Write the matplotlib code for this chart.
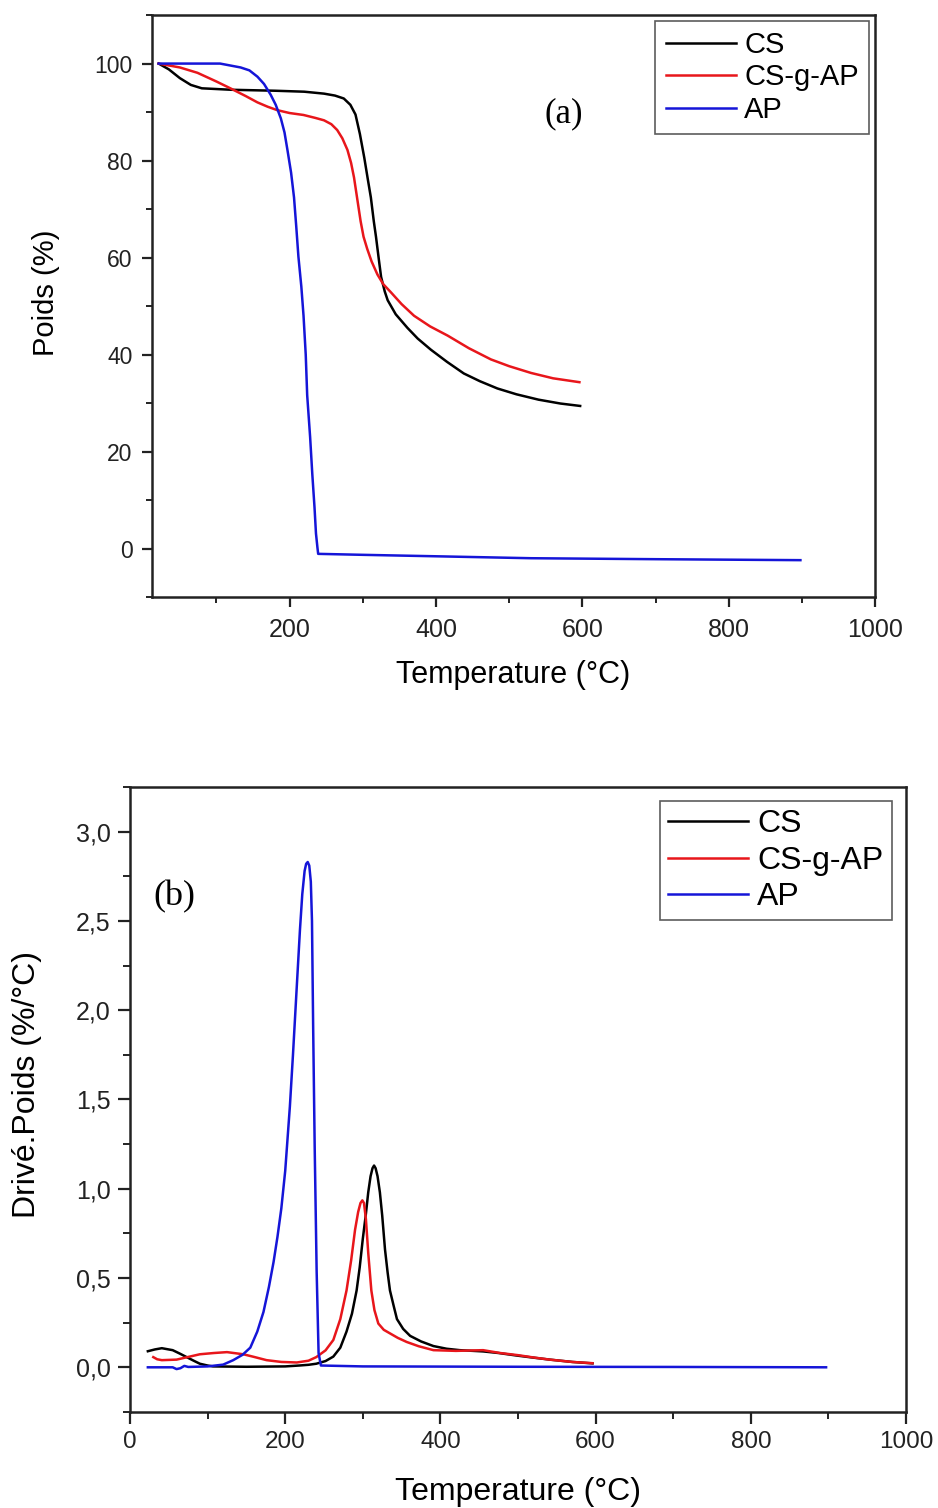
import matplotlib
matplotlib.use("Agg")
from matplotlib import pyplot as plt
from matplotlib.ticker import MultipleLocator, FuncFormatter

# ---- (a) TGA: weight loss (%) vs temperature (°C) ----
tga_cs_t = [21, 35, 50, 65, 80, 120, 180, 220, 247, 262, 274, 283, 290, 296, 302, 307, 311,
            315, 318, 322, 325, 330, 334, 345, 361, 375, 393, 415, 438, 460, 484, 510, 540,
            570, 597]
tga_cs_w = [100, 98.8, 97.0, 95.6, 94.9, 94.6, 94.4, 94.2, 93.8, 93.4, 92.8, 91.5, 89.5, 85.5,
            80.6, 76, 72.4, 67.5, 64.3, 59.5, 56, 53, 51.2, 48.3, 45.5, 43.3, 41, 38.5, 36.1,
            34.5, 33.0, 31.8, 30.7, 29.9, 29.4]

tga_csg_t = [21, 50, 74, 100, 119, 140, 156, 170, 183, 200, 219, 235, 247, 257, 265, 272, 279,
             284, 288, 292, 297, 301, 306, 312, 320, 328, 338, 353, 370, 392, 416, 445, 475,
             500, 530, 560, 596]
tga_csg_w = [100, 99.2, 98.1, 96.3, 94.9, 93.3, 92, 91.1, 90.4, 89.8, 89.4, 88.8, 88.3, 87.5,
             86.3, 84.6, 82.2, 79.5, 76.5, 72.5, 67.5, 64.3, 61.8, 59.2, 56.5, 54.5, 52.9,
             50.4, 48, 45.8, 43.9, 41.3, 39.0, 37.6, 36.2, 35.1, 34.3]

tga_ap_t = [21, 60, 105, 133, 145, 156, 165, 174, 181, 188, 193, 197, 202, 206, 209, 212, 216,
            219, 222, 224, 228, 231, 234, 236, 238, 239, 300, 400, 530, 700, 898]
tga_ap_w = [100, 100, 100, 99.2, 98.6, 97.3, 95.8, 93.6, 91.5, 88.7, 85.8, 82.2, 77.5, 72.4,
            66.5, 60.2, 54, 48, 40, 31.6, 23, 15.3, 8.5, 3.1, 0.2, -1.1, -1.3, -1.6, -2.0,
            -2.2, -2.4]

# ---- (b) DTG: derivative weight (%/°C) vs temperature (°C) ----
dtg_cs_t = [23, 32, 41, 55, 65, 73, 82, 90, 100, 107, 150, 200, 218, 230, 240, 252, 262, 271,
            279, 286, 292, 296, 300, 304, 307, 310, 312.5, 314.5, 316.5, 319, 322, 325, 328.6,
            332, 335, 340, 344, 352, 361, 375, 391, 408, 425, 455, 475, 498, 520, 541, 570,
            596]
dtg_cs_d = [0.09, 0.10, 0.107, 0.096, 0.075, 0.057, 0.037, 0.02, 0.01, 0.005, 0.003, 0.005,
            0.01, 0.014, 0.02, 0.035, 0.06, 0.11, 0.2, 0.3, 0.43, 0.56, 0.72, 0.86, 0.98, 1.07,
            1.115, 1.13, 1.115, 1.07, 0.98, 0.85, 0.66, 0.53, 0.43, 0.34, 0.27, 0.215, 0.176,
            0.145, 0.119, 0.104, 0.096, 0.089, 0.08, 0.066, 0.054, 0.043, 0.03, 0.022]

dtg_csg_t = [30, 35, 41, 60, 75, 90, 108, 125, 146, 160, 176, 195, 215, 230, 240, 252, 262,
             271, 279, 285, 290, 294, 297, 299.4, 301.5, 304, 307, 311, 315, 320, 327, 335,
             345, 356.5, 372, 391, 420, 455, 477, 500, 520, 541, 570, 596]
dtg_csg_d = [0.057, 0.045, 0.04, 0.043, 0.058, 0.073, 0.08, 0.085, 0.073, 0.058, 0.04, 0.03,
             0.027, 0.037, 0.057, 0.095, 0.153, 0.27, 0.43, 0.6, 0.77, 0.87, 0.92, 0.935,
             0.92, 0.83, 0.64, 0.43, 0.32, 0.245, 0.21, 0.19, 0.165, 0.142, 0.118, 0.096,
             0.092, 0.096, 0.08, 0.068, 0.055, 0.043, 0.03, 0.023]

dtg_ap_t = [23, 55, 60, 65, 70, 75, 100, 120, 133, 145, 155, 164, 172, 179, 185, 190, 195,
            200, 206, 210, 215, 219, 222, 225, 227, 229, 231, 233, 234.5, 236, 238, 240.5, 243,
            246, 300, 500, 700, 897]
dtg_ap_d = [0.0, 0.0, -0.01, -0.005, 0.008, 0.002, 0.005, 0.015, 0.04, 0.07, 0.11, 0.2,
            0.31, 0.45, 0.59, 0.73, 0.89, 1.1, 1.46, 1.75, 2.14, 2.45, 2.65, 2.78, 2.82, 2.83,
            2.81, 2.72, 2.5, 1.91, 1.23, 0.54, 0.08, 0.01, 0.005, 0.003, 0.002, 0.0]

labels = ["CS", "CS-g-AP", "AP"]
colors = ["black", "#e8161b", "#1515d8"]

SANS = ["Liberation Sans", "DejaVu Sans"]
SERIF = ["Liberation Serif", "DejaVu Serif"]
plt.rcParams['font.family'] = SANS


def style_axes(ax, major_len=8, minor_len=5, pad=6):
    for sp in ax.spines.values():
        sp.set_linewidth(1.8)
        sp.set_color('#222222')
    ax.tick_params(which='major', direction='out', length=major_len, width=1.6, pad=pad,
                   top=False, right=False, colors='#222222')
    ax.tick_params(which='minor', direction='out', length=minor_len, width=1.4,
                   top=False, right=False, colors='#222222')


fig = plt.figure(figsize=(9.38, 15.08), dpi=100)

# ---------- panel (a) ----------
ax1 = fig.add_axes([0.1621, 0.6041, 0.7708, 0.3859])
for t, w, lab, c in zip([tga_cs_t, tga_csg_t, tga_ap_t], [tga_cs_w, tga_csg_w, tga_ap_w],
                        labels, colors):
    ax1.plot(t, w, color=c, lw=1.8, label=lab)
ax1.set_xlim(12, 1000)
ax1.set_ylim(-10, 110)
ax1.xaxis.set_major_locator(MultipleLocator(200))
ax1.xaxis.set_minor_locator(MultipleLocator(100))
ax1.yaxis.set_major_locator(MultipleLocator(20))
ax1.yaxis.set_minor_locator(MultipleLocator(10))
style_axes(ax1, major_len=7.5, minor_len=4.5, pad=6.5)
ax1.tick_params(axis='x', labelsize=18, pad=7.5)
ax1.tick_params(axis='y', labelsize=16.5)
ax1.set_xlabel("Temperature (°C)", fontsize=22)
ax1.set_ylabel("Poids (%)", fontsize=21)
ax1.xaxis.set_label_coords(0.5, -0.108)
ax1.yaxis.set_label_coords(-0.127, 0.522)
leg1 = ax1.legend(loc='upper right', fontsize=21, frameon=True, fancybox=False,
                  edgecolor='#333333', borderaxespad=0.2, handlelength=2.4,
                  handletextpad=0.3, labelspacing=0.15, borderpad=0.35)
leg1.get_frame().set_linewidth(1.2)
ax1.text(0.57, 0.83, "(a)", transform=ax1.transAxes, fontsize=25,
         family=SERIF, ha='center', va='center')

# ---------- panel (b) ----------
ax2 = fig.add_axes([0.1386, 0.0637, 0.8273, 0.4144])
for t, d, lab, c in zip([dtg_cs_t, dtg_csg_t, dtg_ap_t], [dtg_cs_d, dtg_csg_d, dtg_ap_d],
                        labels, colors):
    ax2.plot(t, d, color=c, lw=1.8, label=lab)
ax2.set_xlim(0, 1000)
ax2.set_ylim(-0.25, 3.25)
ax2.xaxis.set_major_locator(MultipleLocator(200))
ax2.xaxis.set_minor_locator(MultipleLocator(100))
ax2.yaxis.set_major_locator(MultipleLocator(0.5))
ax2.yaxis.set_minor_locator(MultipleLocator(0.25))
ax2.yaxis.set_major_formatter(FuncFormatter(lambda v, p: f"{v:.1f}".replace('.', ',')))
style_axes(ax2, major_len=8.5, minor_len=5, pad=5.5)
ax2.tick_params(axis='y', labelsize=18)
ax2.tick_params(axis='x', labelsize=17.5)
ax2.set_xlabel("Temperature (°C)", fontsize=23)
ax2.set_ylabel("Drivé.Poids (%/°C)", fontsize=23)
ax2.xaxis.set_label_coords(0.5, -0.104)
ax2.yaxis.set_label_coords(-0.113, 0.524)
leg2 = ax2.legend(loc='upper right', fontsize=23, frameon=True, fancybox=False,
                  edgecolor='#333333', borderaxespad=0.45, handlelength=2.5,
                  handletextpad=0.3, labelspacing=0.2, borderpad=0.25)
leg2.get_frame().set_linewidth(1.2)
ax2.text(0.057, 0.825, "(b)", transform=ax2.transAxes, fontsize=26,
         family=SERIF, ha='center', va='center')

fig.savefig("out.png", dpi=100)
